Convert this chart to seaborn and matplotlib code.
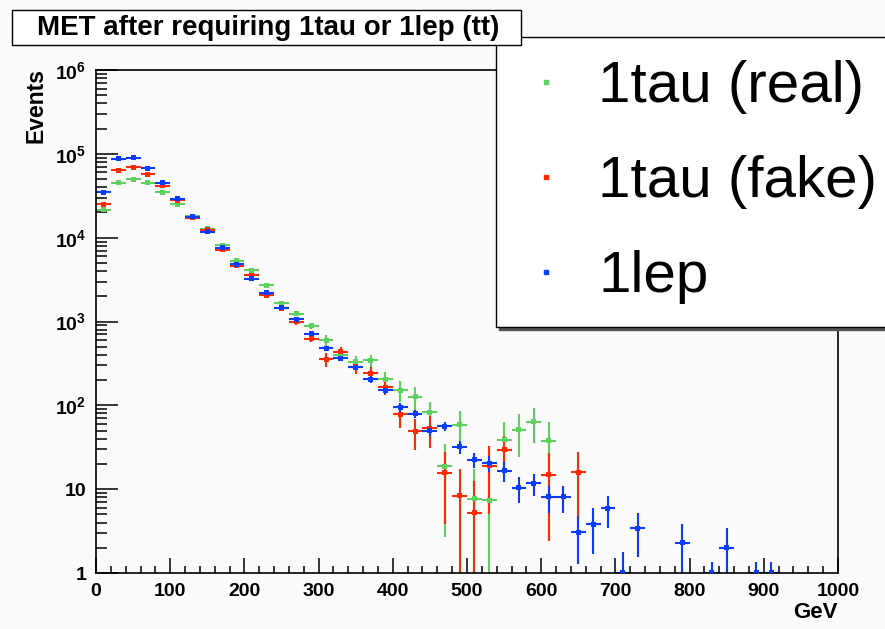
import numpy as np
import pandas as pd
import matplotlib
matplotlib.use('Agg')
import matplotlib.pyplot as plt
from matplotlib.lines import Line2D
from matplotlib.patches import Rectangle
from matplotlib.ticker import FixedLocator, MultipleLocator, NullFormatter
import seaborn as sns

# MET spectrum, 20 GeV bins (bin centres in GeV)
real_met = [10, 30, 50, 70, 90, 110, 130, 150, 170, 190, 210, 230, 250, 270, 290,
            310, 330, 350, 370, 390, 410, 430, 450, 470, 490, 510, 530, 550, 570, 590, 610]
real_evt = [21500, 45000, 50000, 45000, 34600, 25000, 18000, 12800, 8100, 5300, 4100, 2700,
            1660, 1245, 895, 600, 400, 330, 345, 204, 151, 126, 83, 18.7, 59, 7.7, 7.4,
            39, 51, 64, 38]
real_err = [400, 600, 650, 600, 500, 400, 330, 270, 210, 170, 150, 120, 90, 80, 70,
            95, 60, 55, 55, 48, 42, 40, 28, 16, 26, 9.5, 9, 24, 27, 28, 26]

fake_met = [10, 30, 50, 70, 90, 110, 130, 150, 170, 190, 210, 230, 250, 270, 290,
            310, 330, 350, 370, 390, 410, 430, 450, 470, 490, 510, 530, 550, 610, 650]
fake_evt = [25000, 64000, 69000, 57000, 41500, 27800, 17300, 12400, 7200, 4650, 3550, 2050,
            1430, 1000, 625, 355, 435, 290, 240, 165, 78, 49, 53, 15.8, 8.3, 5.25, 19,
            29.5, 14.8, 15.9]
fake_err = [450, 700, 750, 650, 550, 450, 350, 300, 230, 180, 160, 120, 100, 80, 60,
            65, 60, 55, 45, 33, 25, 20, 22, 12, 9.3, 7.4, 14, 13, 12.4, 12]

lep_met = [10, 30, 50, 70, 90, 110, 130, 150, 170, 190, 210, 230, 250, 270, 290,
           310, 330, 350, 370, 390, 410, 430, 450, 470, 490, 510, 530, 550, 570, 590,
           610, 630, 650, 670, 690, 710, 730, 790, 830, 850, 890, 910]
lep_evt = [34600, 87000, 90000, 67600, 45000, 29000, 17800, 11700, 7600, 4800, 3250, 2200,
           1450, 1070, 715, 478, 363, 285, 204, 151, 95, 79, 50, 56, 32, 22.4, 20.4,
           16.6, 10.4, 11.8, 8.1, 8.1, 3.05, 3.8, 5.9, 1.0, 3.4, 2.3, 1.0, 2.0, 1.0, 1.0]
lep_err = [250, 400, 400, 350, 280, 230, 180, 140, 110, 90, 70, 60, 45, 40, 32,
           26, 22, 20, 17, 15, 12, 9, 7, 6.5, 5.7, 4.6, 4.5, 4.4, 3.5, 3.5,
           2.9, 2.9, 1.76, 2.1, 2.5, 0.8, 1.85, 1.5, 0.35, 1.41, 0.35, 0.35]

labels = ['1tau (real)', '1tau (fake)', '1lep']
colors = ['#5fcf5f', '#ff2a00', '#0a3cff']
bin_half = 10

y_ticks = [1, 10, 100, 1e3, 1e4, 1e5, 1e6]
y_labels = ['1', '10', '$10^{2}$', '$10^{3}$', '$10^{4}$', '$10^{5}$', '$10^{6}$']

sns.set_style('ticks')
plt.rcParams['font.family'] = ['Liberation Sans', 'DejaVu Sans']
plt.rcParams['mathtext.fontset'] = 'custom'
plt.rcParams['mathtext.rm'] = 'Liberation Sans:bold'
plt.rcParams['mathtext.it'] = 'Liberation Sans:bold'
plt.rcParams['mathtext.bf'] = 'Liberation Sans:bold'
plt.rcParams['mathtext.default'] = 'rm'
plt.rcParams['text.color'] = 'black'
plt.rcParams['xtick.color'] = 'black'
plt.rcParams['ytick.color'] = 'black'
plt.rcParams['xtick.labelcolor'] = 'black'
plt.rcParams['ytick.labelcolor'] = 'black'

bg = '#fafafa'
W, H = 885, 629
fig = plt.figure(figsize=(W / 100, H / 100), dpi=100, facecolor=bg)
ax = fig.add_axes([96 / W, 1 - 573 / H, (838 - 96) / W, (573 - 70) / H])
ax.set_facecolor(bg)

series = [(real_met, real_evt, real_err), (fake_met, fake_evt, fake_err), (lep_met, lep_evt, lep_err)]
for (x, y, e), lab, c in zip(series, labels, colors):
    df = pd.DataFrame({'met': x, 'events': y, 'err': e})
    ax.errorbar(df['met'], df['events'], xerr=bin_half, yerr=df['err'], fmt='none',
                ecolor=c, elinewidth=1.5, capsize=0, zorder=2)
    sns.scatterplot(data=df, x='met', y='events', color=c, marker='s', s=13,
                    edgecolor='none', linewidth=0, ax=ax, legend=False, zorder=3)

ax.set_yscale('log', nonpositive='clip')
ax.set_xlim(0, 1000)
ax.set_ylim(1, 1e6)
ax.set_xlabel('')
ax.set_ylabel('')

ax.set_yticks(y_ticks)
ax.set_yticklabels(y_labels)
ax.yaxis.set_minor_locator(FixedLocator([m * 10 ** d for d in range(6) for m in range(2, 10)]))
ax.yaxis.set_minor_formatter(NullFormatter())
ax.xaxis.set_major_locator(MultipleLocator(100))
ax.xaxis.set_minor_locator(MultipleLocator(20))

ax.tick_params(axis='y', which='major', direction='in', length=16, width=1.1, pad=7,
               labelsize=14, right=False)
ax.tick_params(axis='y', which='minor', direction='in', length=8, width=1.1, right=False)
ax.tick_params(axis='x', which='major', direction='in', length=11, width=1.1, pad=7,
               labelsize=14, top=False)
ax.tick_params(axis='x', which='minor', direction='in', length=5, width=1.1, top=False)
for t in ax.get_xticklabels() + ax.get_yticklabels():
    t.set_fontweight('bold')
for s in ax.spines.values():
    s.set_visible(True)
    s.set_color('black')
    s.set_linewidth(1.2)

fig.text(838 / W, 1 - 612 / H, 'GeV', ha='right', va='center', fontsize=16, fontweight='bold')
fig.text(36 / W, 1 - 68 / H, 'Events', ha='center', va='top', rotation=90,
         fontsize=16.5, fontweight='bold')

# legend
handles = [Line2D([], [], linestyle='none', marker='s', markersize=3.5, color=c) for c in colors]
leg = ax.legend(handles, labels, loc='upper left', bbox_to_anchor=(496 / W, 1 - 37 / H),
                bbox_transform=fig.transFigure, fontsize=42, frameon=True, fancybox=False,
                framealpha=1, facecolor='white', edgecolor='black', borderpad=0.4,
                labelspacing=0.7, handlelength=0.9, handletextpad=0.45,
                borderaxespad=0, shadow={'color': '#555555', 'alpha': 1})
leg.get_frame().set_linewidth(1.0)
leg.set_zorder(10)
for t in leg.get_texts():
    t.set_color('black')

# title box
fig.add_artist(Rectangle((12 / W, 1 - 45 / H), (521 - 12) / W, 35 / H,
                         transform=fig.transFigure, facecolor='white', edgecolor='black',
                         linewidth=1.0, zorder=20))
fig.text(268 / W, 1 - 28 / H, 'MET after requiring 1tau or 1lep (tt)', ha='center',
         va='center', fontsize=20, fontweight='bold', zorder=21)

fig.savefig('out.png', dpi=100, facecolor=bg)
